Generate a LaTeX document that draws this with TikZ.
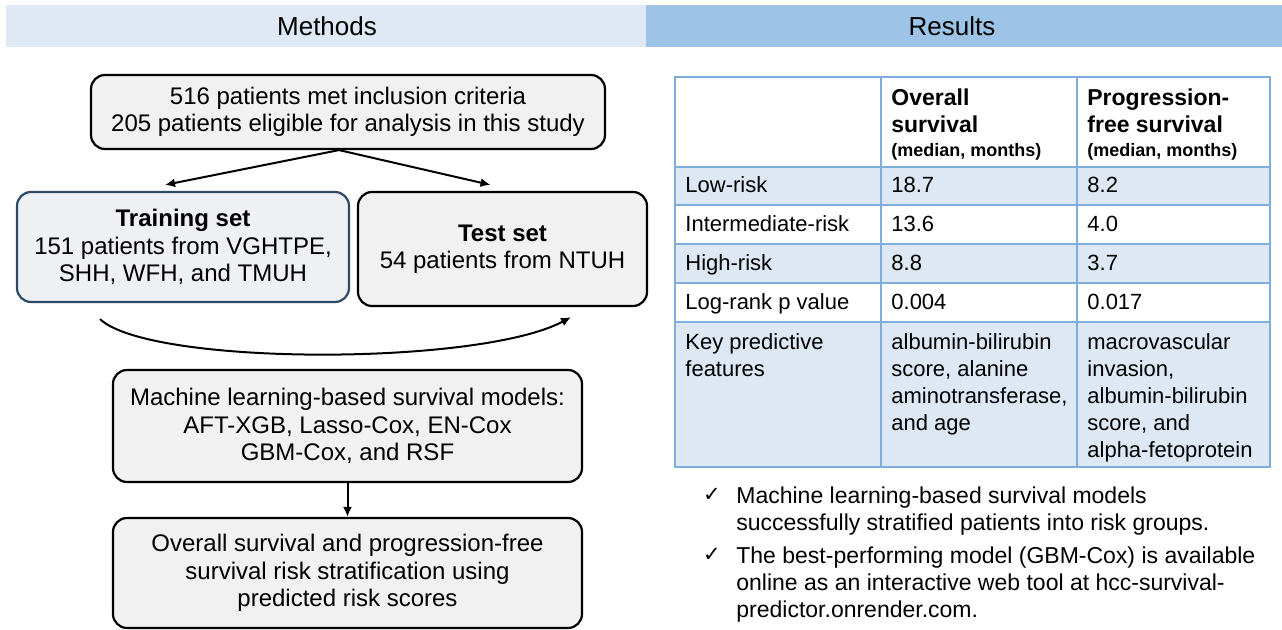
\documentclass[tikz,border=0pt]{standalone}
\usepackage{fontspec}
\setmainfont{Liberation Sans}
\newfontfamily\checkfont{DejaVu Sans}
\usetikzlibrary{arrows.meta,positioning,calc}
\definecolor{methodsbg}{HTML}{DEE9F5}
\definecolor{resultsbg}{HTML}{9DC3E6}
\definecolor{rowblue}{HTML}{DEE8F5}
\definecolor{tableline}{HTML}{7FAEDD}
\definecolor{boxgray}{HTML}{F1F1F1}
\definecolor{trainfill}{HTML}{EEF0F4}
\definecolor{trainborder}{HTML}{2D4A67}

\tikzset{
  flowbox/.style={draw, line width=1.1pt, rounded corners=7pt, fill=boxgray,
    align=center, inner sep=0pt, font=\fontsize{12}{13.75}\selectfont},
  flowarrow/.style={line width=1pt, -{Latex[length=5pt,width=4.5pt]}},
  headtext/.style={inner sep=0pt, font=\fontsize{13}{15}\selectfont},
  cell/.style={anchor=base west, inner sep=0pt, font=\fontsize{11}{13.5}\selectfont},
  multicell/.style={anchor=north west, inner sep=0pt, align=left, font=\fontsize{11}{13.5}\selectfont},
  headcell/.style={multicell, font=\bfseries\fontsize{11.5}{13.5}\selectfont},
  gridline/.style={draw=tableline, line width=0.8pt},
  checkmark/.style={anchor=north, inner sep=0pt, font=\checkfont\fontsize{10.5}{13.5}\selectfont},
}

\begin{document}
\begin{tikzpicture}[x=0.5pt,y=-0.5pt]
    \useasboundingbox (0,0) rectangle (1282,630);

    % Header bars
    \fill[methodsbg] (6,5) rectangle (646,47);
    \fill[resultsbg] (646,5) rectangle (1282,47);
    \node[headtext] (methods) at (327,26) {Methods};
    \node[headtext] (results) at (952,26) {Results};

    % Methods flowchart
    \node[flowbox, minimum width=257pt, minimum height=37pt] (cohort) at (348,112)
        {516 patients met inclusion criteria\\205 patients eligible for analysis in this study};
    \node[flowbox, draw=trainborder, fill=trainfill, minimum width=166pt, minimum height=55pt] (train) at (183,247)
        {\textbf{Training set}\\151 patients from VGHTPE,\\SHH, WFH, and TMUH};
    \node[flowbox, minimum width=144.5pt, minimum height=57pt] (test) at (502.5,249)
        {\textbf{Test set}\\54 patients from NTUH};
    \node[flowbox, minimum width=234.5pt, minimum height=56pt] (models) at (347.5,426)
        {Machine learning-based survival models:\\AFT-XGB, Lasso-Cox, EN-Cox\\GBM-Cox, and RSF};
    \node[flowbox, minimum width=234.5pt, minimum height=55pt] (strat) at (347.5,573)
        {Overall survival and progression-free\\survival risk stratification using\\predicted risk scores};

    \draw[flowarrow] ([xshift=-4.5pt]cohort.south) -- ([xshift=-9pt,yshift=3pt]train.north);
    \draw[flowarrow] ([xshift=-4.5pt]cohort.south) -- ([xshift=-6pt,yshift=3pt]test.north);
    \draw[flowarrow] ([xshift=-41.5pt,yshift=-8pt]train.south)
        .. controls +(50,47) and +(-91,49) .. ([xshift=34.25pt,yshift=-5pt]test.south);
    \draw[flowarrow] (models) -- (strat);

    % Results table
    \fill[rowblue] (675,167) rectangle (1270,205);
    \fill[rowblue] (675,244) rectangle (1270,283);
    \fill[rowblue] (675,322) rectangle (1270,467);
    \foreach \y in {205,244,283,322}
        \draw[gridline] (675,\y) -- (1270,\y);
    \foreach \x in {881,1077}
        \draw[gridline] (\x,77) -- (\x,467);
    \draw[gridline, line width=1.4pt] (675,167) -- (1270,167);
    \draw[gridline, line width=1pt] (675,77) rectangle (1270,467);

    \node[headcell] (oshead) at (891,88)
        {Overall\\survival\\[-1.5pt]{\fontsize{9}{10}\selectfont (median, months)}};
    \node[headcell] (pfshead) at (1087,88)
        {Progression-\\free survival\\[-1.5pt]{\fontsize{9}{10}\selectfont (median, months)}};

    \foreach \y/\lab/\os/\pfs in {193/Low-risk/18.7/8.2, 231.5/Intermediate-risk/13.6/4.0,
                                  271/High-risk/8.8/3.7, 310/Log-rank p value/0.004/0.017} {
        \node[cell] (lab\y) at (685,\y) {\lab};
        \node[cell] (os\y) at (891,\y) {\os};
        \node[cell] (pfs\y) at (1087,\y) {\pfs};
    }
    \node[multicell] (keylab) at (685,333) {Key predictive\\features};
    \node[multicell] (keyos) at (891,333) {albumin-bilirubin\\score, alanine\\aminotransferase,\\and age};
    \node[multicell] (keypfs) at (1087,333) {macrovascular\\invasion,\\albumin-bilirubin\\score, and\\alpha-fetoprotein};

    % Take-home points
    \node[checkmark] (check1) at (712,488) {✓};
    \node[multicell, font=\fontsize{11.5}{13.5}\selectfont] (point1) at (736,486)
        {Machine learning-based survival models\\successfully stratified patients into risk groups.};
    \node[checkmark] (check2) at (712,548) {✓};
    \node[multicell, font=\fontsize{11.5}{13.5}\selectfont] (point2) at (736,546)
        {The best-performing model (GBM-Cox) is available\\online as an interactive web tool at hcc-survival-\\predictor.onrender.com.};

\end{tikzpicture}
\end{document}
